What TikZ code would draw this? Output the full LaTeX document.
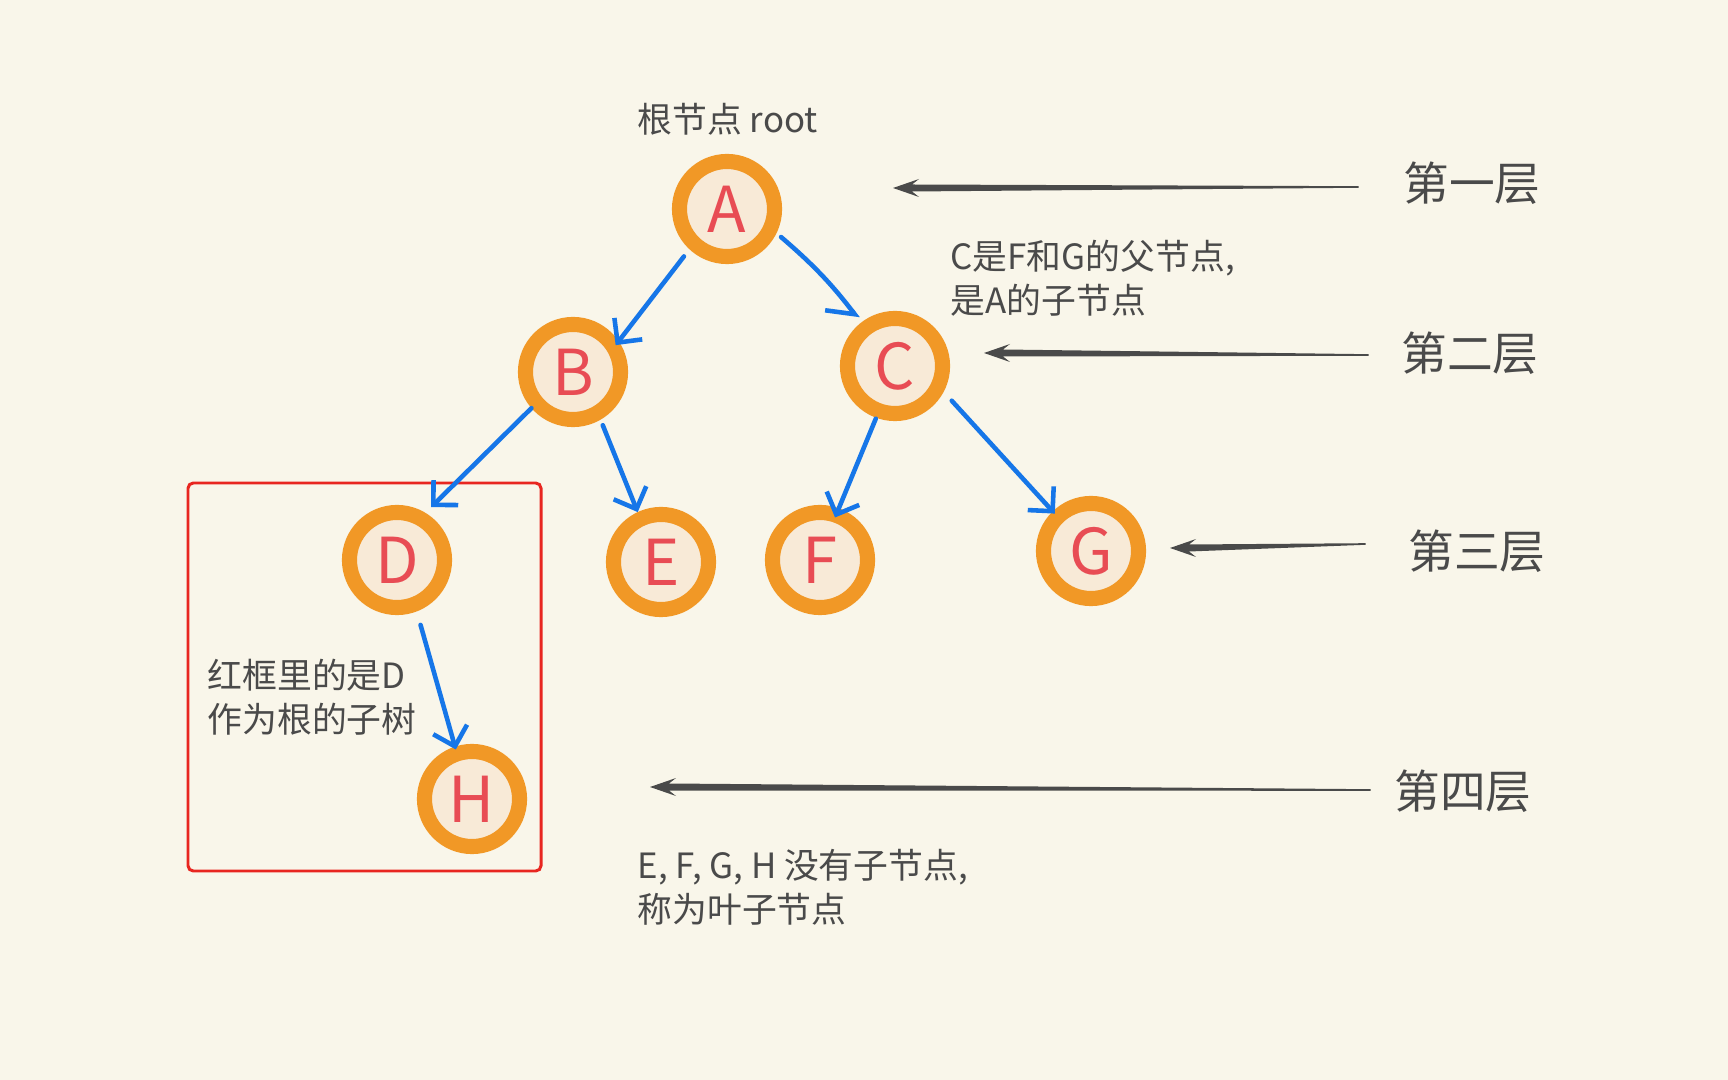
\documentclass[tikz,border=0pt]{standalone}
\usepackage{fontspec}
\newfontfamily\cjk{Noto Sans CJK SC}
\usetikzlibrary{arrows.meta,positioning,calc}

\definecolor{paper}{RGB}{249,246,234}
\definecolor{ringorange}{RGB}{241,152,38}
\definecolor{ringfill}{RGB}{248,234,215}
\definecolor{letterred}{RGB}{232,76,84}
\definecolor{edgeblue}{RGB}{22,118,232}
\definecolor{inkgray}{RGB}{74,74,74}
\definecolor{framered}{RGB}{232,38,32}

\begin{document}
\begin{tikzpicture}[
    x=0.01cm, y=-0.01cm,
    treenode/.style={
        circle,
        draw=ringorange,
        fill=ringfill,
        line width=4.3pt,
        minimum size=0.95cm,
        inner sep=0pt,
        text=letterred,
        font=\cjk\fontsize{18}{18}\selectfont
    },
    branch/.style={
        -{Straight Barb[length=5pt,width=10pt]},
        line width=1.3pt,
        draw=edgeblue,
        line cap=round,
        line join=round
    },
    note/.style={
        font=\cjk\fontsize{9.9}{12.6}\selectfont,
        text=inkgray,
        align=left,
        inner sep=0pt
    },
    layer/.style={
        font=\cjk\fontsize{13}{15}\selectfont,
        text=inkgray,
        inner sep=0pt
    },
    layerink/.style={
        fill=inkgray
    },
    subtree/.style={
        draw=framered,
        line width=0.85pt,
        rounded corners=1.5pt
    }
]

% ---------------------------------------------------------
% Canvas
% ---------------------------------------------------------
\fill[paper] (0,0) rectangle (1728,1080);
\useasboundingbox (0,0) rectangle (1728,1080);

% ---------------------------------------------------------
% Subtree frame around D
% ---------------------------------------------------------
\draw[subtree] (188,483) rectangle (541,871);

% ---------------------------------------------------------
% Tree nodes
% ---------------------------------------------------------
\node[treenode] (A) at (727,209) {A};
\node[treenode] (B) at (573,372) {B};
\node[treenode] (C) at (895,366) {C};
\node[treenode] (D) at (397,560) {D};
\node[treenode] (E) at (661,562) {E};
\node[treenode] (F) at (820,560) {F};
\node[treenode] (G) at (1091,551) {G};
\node[treenode] (H) at (472,799) {H};

% parent -> child
\draw[branch, shorten <=0.09cm, shorten >=-0.05cm] (A.227) -- (B.34);
\draw[branch, -{Straight Barb[right,length=6pt,width=12pt]},
    shorten <=0.06cm, shorten >=0.05cm] (A.334) to[bend left=6] (C.128);
\draw[branch, shorten >=0.08cm] (B.221) -- (D.59);
\draw[branch, shorten <=0.06cm] (B.300) -- (E.115);
\draw[branch, shorten <=0.01cm, shorten >=-0.10cm] (C.250) -- (F.70);
\draw[branch, shorten <=0.12cm, shorten >=-0.03cm] (C.332) -- (G.134);
\draw[branch, shorten <=0.14cm, shorten >=-0.03cm] (D.291) -- (H.108);

% ---------------------------------------------------------
% Notes
% ---------------------------------------------------------
\node[note, anchor=west] (rootnote) at (637,119) {根节点 root};
\node[note, anchor=west] (cnote) at (950,278)
    {C是F和G的父节点,\\是A的子节点};
\node[note, anchor=west] (dnote) at (207,697)
    {红框里的是D\\作为根的子树};
\node[note, anchor=west] (leafnote) at (637,887)
    {E, F, G, H 没有子节点,\\称为叶子节点};

% ---------------------------------------------------------
% Layer labels and their arrows
% ---------------------------------------------------------
\node[layer] (lay1) at (1472,183) {第一层};
\node[layer] (lay2) at (1470,353) {第二层};
\node[layer] (lay3) at (1477,551) {第三层};
\node[layer] (lay4) at (1463,791) {第四层};

\coordinate (tip1) at (893,188);
\coordinate (tip2) at (984,353);
\coordinate (tip3) at (1170,548);
\coordinate (tip4) at (650,787);

\coordinate (tail1) at ($(lay1.west)+(-44,4)$);
\coordinate (tail2) at ($(lay2.west)+(-32,2)$);
\coordinate (tail3) at ($(lay3.west)+(-42,-7)$);
\coordinate (tail4) at ($(lay4.west)+(-23,-1)$);

\foreach \i in {1,...,4}
    \fill[layerink] ($(tail\i)+(0,-0.8)$) -- ($(tip\i)+(19,-3.5)$)
        -- ($(tip\i)+(26,-9)$) -- (tip\i) -- ($(tip\i)+(26,9)$)
        -- ($(tip\i)+(19,3.5)$) -- ($(tail\i)+(0,0.8)$) -- cycle;

\end{tikzpicture}
\end{document}
